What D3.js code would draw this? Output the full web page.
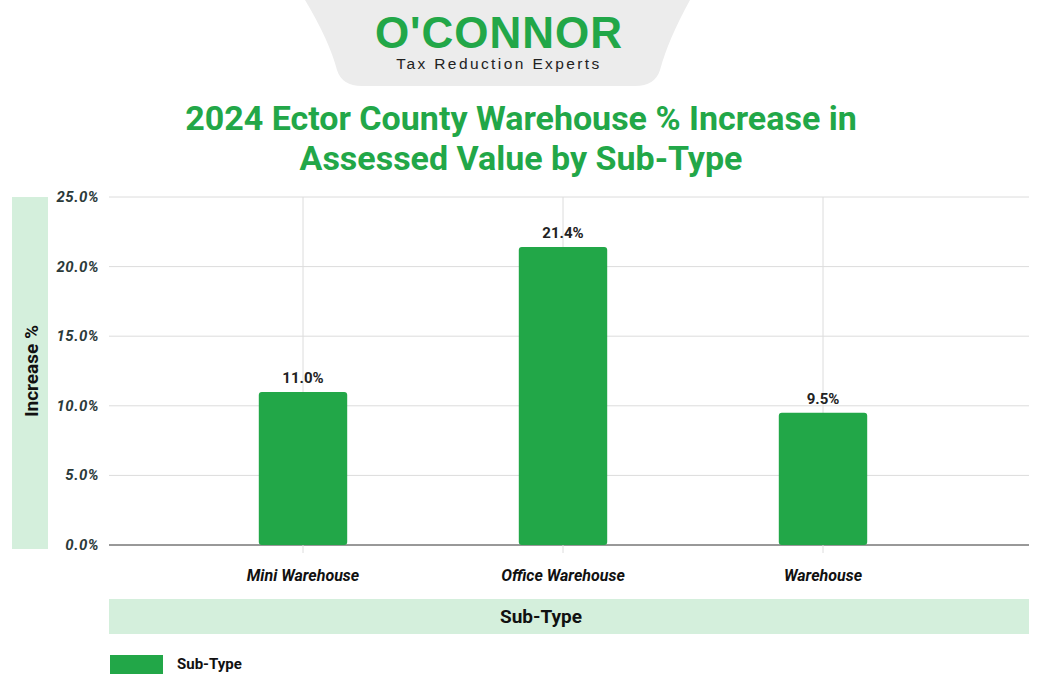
<!DOCTYPE html>
<html><head><meta charset="utf-8">
<script src="https://cdn.jsdelivr.net/npm/d3@7"></script>
<style>body{margin:0;background:#fff;font-family:Roboto,"Liberation Sans",sans-serif}</style>
</head><body><svg id="c" width="1042" height="687"></svg>
<script>
const categories = ['Mini Warehouse', 'Office Warehouse', 'Warehouse'];
const values = [11.0, 21.4, 9.5];
const yTicks = [0, 5, 10, 15, 20, 25];

const svg = d3.select('#c');
const green = '#22a748';

// logo badge
svg.append('path')
  .attr('d', 'M305,0 L690,0 Q668,40 660,70 Q655,86 635,86 L362,86 Q342,86 337,70 Q329,40 305,0 Z')
  .attr('fill', '#ececec');
svg.append('text').attr('x', 499).attr('y', 48).attr('text-anchor', 'middle')
  .attr('font-size', 44).attr('font-weight', 900).attr('fill', green).attr('letter-spacing', 1)
  .attr('font-family', '"Liberation Sans",Arial,sans-serif').text("O'CONNOR");
svg.append('text').attr('x', 499).attr('y', 69).attr('text-anchor', 'middle')
  .attr('font-size', 15.5).attr('letter-spacing', 2.4).attr('fill', '#222')
  .attr('font-family', '"Liberation Sans",Arial,sans-serif').text('Tax Reduction Experts');

// title
['2024 Ector County Warehouse % Increase in', 'Assessed Value by Sub-Type'].forEach((t, i) => {
  svg.append('text').attr('x', 521).attr('y', 130 + i * 40).attr('text-anchor', 'middle')
    .attr('font-size', 34).attr('font-weight', 700).attr('fill', green).text(t);
});

const x = d3.scaleBand().domain(categories).range([173, 953]).paddingInner(0.66).paddingOuter(0.33);
const y = d3.scaleLinear().domain([0, 25]).range([545, 197]);
const left = 109, right = 1029;

// y label panel
svg.append('rect').attr('x', 12).attr('y', 197).attr('width', 36).attr('height', 352).attr('fill', '#d4efdc');
svg.append('text').attr('transform', 'translate(38,371) rotate(-90)').attr('text-anchor', 'middle')
  .attr('font-size', 19).attr('font-weight', 700).attr('fill', '#111').text('Increase %');

// grid
svg.append('g').selectAll('line').data(yTicks).join('line')
  .attr('x1', left).attr('x2', right).attr('y1', d => y(d)).attr('y2', d => y(d))
  .attr('stroke', d => d === 0 ? '#333' : '#dcdcdc').attr('stroke-width', 1);
svg.append('g').selectAll('line').data(categories).join('line')
  .attr('x1', d => x(d) + x.bandwidth() / 2).attr('x2', d => x(d) + x.bandwidth() / 2)
  .attr('y1', 197).attr('y2', 553).attr('stroke', '#dcdcdc');

svg.append('g').selectAll('text').data(yTicks).join('text')
  .attr('x', 99).attr('y', d => y(d) + 5).attr('text-anchor', 'end')
  .attr('font-size', 15).attr('font-style', 'italic').attr('font-weight', 700).attr('fill', '#2b3a3a')
  .attr('letter-spacing', 0.5).text(d => d.toFixed(1) + '%');

// bars
svg.append('g').selectAll('rect').data(values).join('rect')
  .attr('x', (d, i) => x(categories[i])).attr('width', x.bandwidth())
  .attr('y', d => y(d)).attr('height', d => y(0) - y(d))
  .attr('rx', 3).attr('fill', green);
svg.append('g').selectAll('text').data(values).join('text')
  .attr('x', (d, i) => x(categories[i]) + x.bandwidth() / 2).attr('y', d => y(d) - 9)
  .attr('text-anchor', 'middle').attr('font-size', 15).attr('font-weight', 700).attr('fill', '#222')
  .text(d => d.toFixed(1) + '%');

svg.append('g').selectAll('text').data(categories).join('text')
  .attr('x', d => x(d) + x.bandwidth() / 2).attr('y', 581).attr('text-anchor', 'middle')
  .attr('font-size', 16).attr('font-style', 'italic').attr('font-weight', 700).attr('fill', '#111')
  .text(d => d);

// x label panel
svg.append('rect').attr('x', left).attr('y', 599).attr('width', right - left).attr('height', 35).attr('fill', '#d4efdc');
svg.append('text').attr('x', 541).attr('y', 623).attr('text-anchor', 'middle')
  .attr('font-size', 19).attr('font-weight', 700).attr('fill', '#111').text('Sub-Type');

// legend
svg.append('rect').attr('x', 110).attr('y', 655).attr('width', 53).attr('height', 19).attr('fill', green);
svg.append('text').attr('x', 177).attr('y', 669).attr('font-size', 15).attr('font-weight', 700).attr('fill', '#111').text('Sub-Type');
</script></body></html>
